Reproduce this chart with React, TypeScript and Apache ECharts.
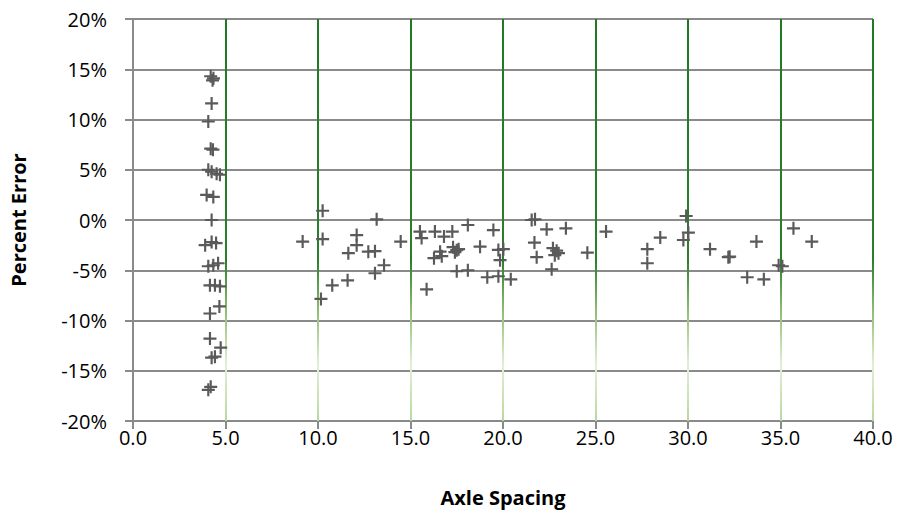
import React, { useEffect, useRef } from "react";
import * as echarts from "echarts";

// Axle spacing (x) and percent error (y, in %)
const axleSpacing: number[] = [
  4.2, 4.3, 4.35, 4.25, 4.07, 4.2, 4.32, 4.07, 4.25, 4.52, 4.7,
  3.98, 4.34, 4.25, 3.9, 4.25, 4.49, 4.07, 4.34, 4.6, 4.16, 4.43, 4.7,
  4.67, 4.16, 4.16, 4.74, 4.25, 4.43, 4.07, 4.2,
  9.17, 10.25, 10.25, 10.16, 10.77, 11.6, 11.64, 12.09, 12.09, 12.72, 13.08,
  13.17, 13.57, 13.08, 14.47, 15.51, 15.6, 15.87, 16.32, 16.81, 16.6, 16.27, 16.69,
  17.26, 17.3, 17.5, 17.4, 17.6, 17.5, 18.1, 18.1, 18.76, 19.48, 19.75, 19.84,
  19.15, 19.75, 20.02, 20.42, 21.55, 21.73, 22.36, 23.4, 21.7, 21.82,
  22.9, 22.7, 23.0, 22.8, 22.63, 24.56, 25.57, 27.8, 27.8, 28.5, 29.9, 29.75, 30.02,
  31.19, 32.18, 32.25, 33.7, 33.2, 34.1, 34.9, 35.1, 35.7, 36.69,
];
const percentError: number[] = [
  14.3, 13.9, 14.1, 11.6, 9.8, 7.1, 7.0, 5.0, 4.8, 4.6, 4.5,
  2.5, 2.3, 0.0, -2.5, -2.2, -2.3, -4.6, -4.5, -4.3, -6.5, -6.5, -6.6,
  -8.6, -9.3, -11.8, -12.7, -13.7, -13.6, -16.9, -16.6,
  -2.15, 0.92, -1.9, -7.85, -6.5, -6.0, -3.3, -1.5, -2.5, -3.15, -3.1,
  0.07, -4.5, -5.3, -2.15, -1.15, -1.8, -6.9, -1.15, -1.65, -3.15, -3.8, -3.6,
  -1.15, -2.7, -3.0, -3.2, -2.9, -5.1, -5.0, -0.5, -2.65, -1.0, -2.98, -4.0,
  -5.7, -5.6, -2.9, -5.9, 0.0, 0.07, -0.93, -0.83, -2.25, -3.7,
  -3.05, -2.8, -3.3, -3.5, -4.9, -3.25, -1.15, -2.9, -4.3, -1.75, 0.4, -1.99, -1.26,
  -2.9, -3.7, -3.65, -2.15, -5.7, -5.9, -4.5, -4.6, -0.83, -2.15,
];

const greenLines: number[] = [5, 10, 15, 20, 25, 30, 35, 40];

const xTitle = "Axle Spacing";
const yTitle = "Percent Error";

const FONT = "Open Sans";
const GRAY = "#8a8a8a";

export default function App() {
  const ref = useRef<HTMLDivElement>(null);

  useEffect(() => {
    document.body.style.margin = "0";
    if (!ref.current) return;
    const chart = echarts.init(ref.current, undefined, { renderer: "svg" });
    const points = axleSpacing.map((x, i) => [x, percentError[i]]);
    const greenGrad = new echarts.graphic.LinearGradient(
      0, 19, 0, 421,
      [
        { offset: 0, color: "#1e7b22" },
        { offset: 0.6, color: "#2a7f2c" },
        { offset: 0.72, color: "#8cbb6c" },
        { offset: 0.86, color: "#e2efd8" },
        { offset: 1, color: "#b8d8a0" },
      ],
      true
    );
    chart.setOption({
      animation: false,
      backgroundColor: "#ffffff",
      grid: { left: 133, right: 28, top: 19, bottom: 110, containLabel: false },
      xAxis: {
        type: "value",
        min: 0,
        max: 40,
        interval: 5,
        name: xTitle,
        nameLocation: "middle",
        nameGap: 66,
        nameTextStyle: { fontFamily: FONT, fontSize: 20, fontWeight: "bold", color: "#000" },
        axisLine: { show: true, onZero: false, lineStyle: { color: GRAY, width: 2 } },
        axisTick: { show: true, inside: false, length: 8, lineStyle: { color: GRAY, width: 2 } },
        axisLabel: {
          margin: 6,
          fontFamily: FONT,
          fontSize: 20,
          color: "#000",
          formatter: (v: number) => v.toFixed(1),
        },
        splitLine: { show: false },
      },
      yAxis: {
        type: "value",
        min: -20,
        max: 20,
        interval: 5,
        name: yTitle,
        nameLocation: "middle",
        nameRotate: 90,
        nameGap: 105,
        nameTextStyle: { fontFamily: FONT, fontSize: 20, fontWeight: "bold", color: "#000" },
        axisLine: { show: true, onZero: false, lineStyle: { color: GRAY, width: 2 } },
        axisTick: { show: true, inside: false, length: 8, lineStyle: { color: GRAY, width: 2 } },
        axisLabel: {
          margin: 26,
          fontFamily: FONT,
          fontSize: 20,
          color: "#000",
          formatter: (v: number) => `${v}%`,
        },
        splitLine: { show: true, lineStyle: { color: GRAY, width: 2 } },
      },
      series: [
        {
          type: "scatter",
          data: points,
          symbol: "path://M5,0h2v5h5v2h-5v5h-2v-5h-5v-2h5z",
          symbolSize: 13,
          itemStyle: { color: "#5a5a5a", opacity: 1 },
          z: 5,
          markLine: {
            silent: true,
            symbol: ["none", "none"],
            label: { show: false },
            lineStyle: { color: greenGrad, width: 2, type: "solid" },
            emphasis: { disabled: true },
            data: greenLines.map((v) => ({ xAxis: v })),
          },
        },
      ],
    });
    return () => chart.dispose();
  }, []);

  return <div ref={ref} style={{ width: 901, height: 531 }} />;
}
